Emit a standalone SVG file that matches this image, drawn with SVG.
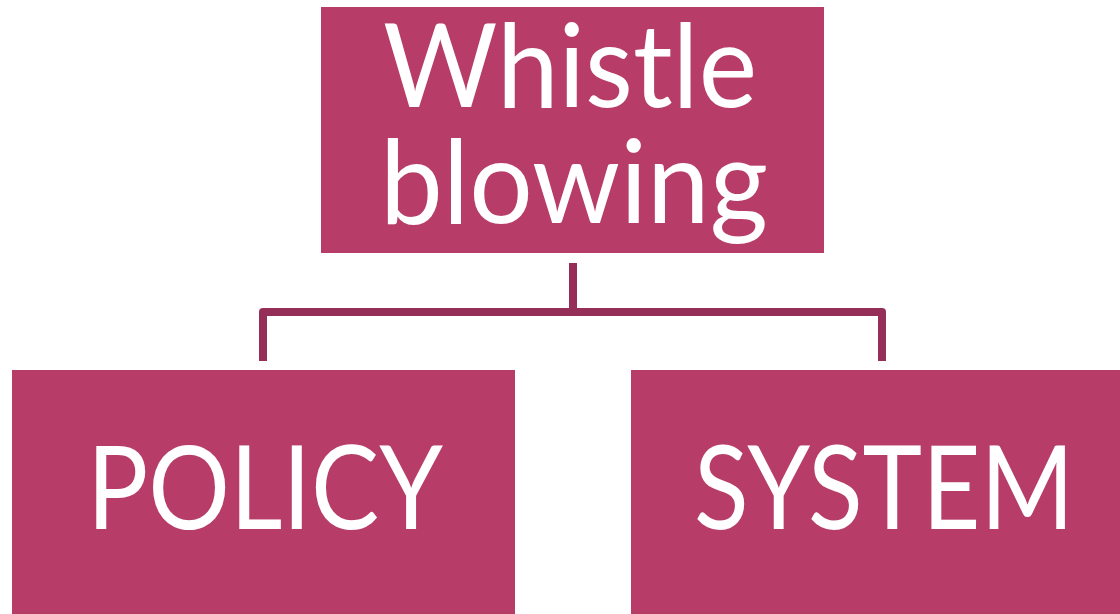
<svg xmlns="http://www.w3.org/2000/svg" width="1120" height="614" viewBox="0 0 1120 614">
  <style>
    .box { fill: #B83C68; }
    .label { fill: #FFFFFF; font-family: Lato, "Open Sans", "Liberation Sans", sans-serif; font-size: 116px; }
    .link { fill: none; stroke: #952F57; stroke-width: 8; stroke-linejoin: round; }
  </style>
  <rect width="1120" height="614" fill="#FFFFFF"/>

  <!-- tree connectors -->
  <g id="connectors">
    <path class="link" d="M573 263 V312"/>
    <path class="link" d="M263 361 V312 H882 V361"/>
  </g>

  <g id="node-whistleblowing">
    <rect class="box" x="321" y="7" width="503" height="246"/>
    <text class="label" x="383" y="107" textLength="374" lengthAdjust="spacingAndGlyphs">Whistle</text>
    <text class="label" x="380" y="223" textLength="388" lengthAdjust="spacingAndGlyphs">blowing</text>
  </g>

  <g id="node-policy">
    <rect class="box" x="12" y="370" width="503" height="244"/>
    <text class="label" x="87" y="529" textLength="356" lengthAdjust="spacingAndGlyphs">POLICY</text>
  </g>

  <g id="node-system">
    <rect class="box" x="631" y="370" width="489" height="244"/>
    <text class="label" x="694" y="529" textLength="380" lengthAdjust="spacingAndGlyphs">SYSTEM</text>
  </g>
</svg>
